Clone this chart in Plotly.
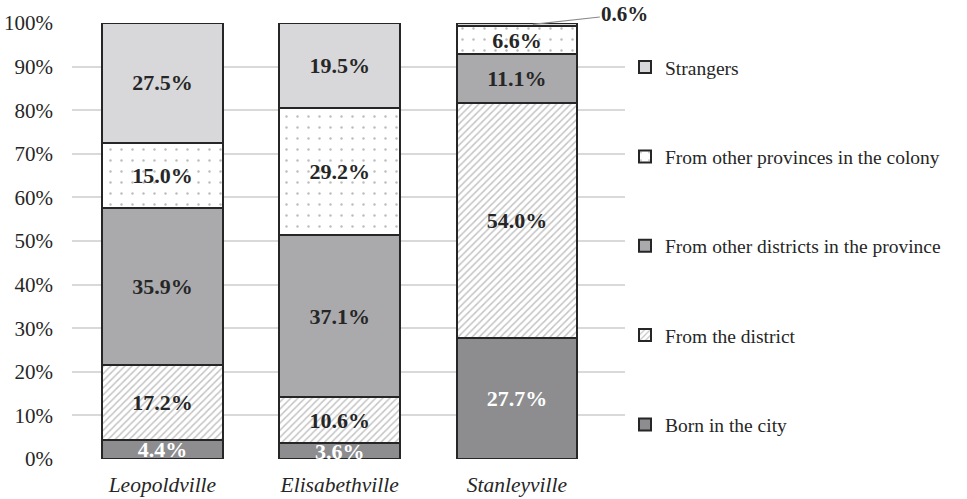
import plotly.graph_objects as go

# Origin of the urban population in three Congolese cities (shares, %)
cities = ["Leopoldville", "Elisabethville", "Stanleyville"]
born_in_city = [4.4, 3.6, 27.7]
from_district = [17.2, 10.6, 54.0]
other_districts = [35.9, 37.1, 11.1]
other_provinces = [15.0, 29.2, 6.6]
strangers = [27.5, 19.5, 0.6]
y_ticks = [0, 10, 20, 30, 40, 50, 60, 70, 80, 90, 100]

FONT = "serif"
EDGE = "#262626"

series = [
    ("Born in the city", born_in_city, dict(color="#8d8d90"), "white"),
    ("From the district", from_district,
     dict(color="white", pattern=dict(shape="/", size=5, solidity=0.3,
                                      fgcolor="#8a8a8a", bgcolor="white")), EDGE),
    ("From other districts in the province", other_districts, dict(color="#aaaaad"), EDGE),
    ("From other provinces in the colony", other_provinces,
     dict(color="white", pattern=dict(shape=".", size=11, solidity=0.04,
                                      fgcolor="#7a7a7a", bgcolor="white")), EDGE),
    ("Strangers", strangers, dict(color="#d8d8da"), EDGE),
]

fig = go.Figure()
n = len(series)
for i, (name, vals, marker, tcolor) in enumerate(series):
    # the smallest slice gets an outside callout instead of an inside label
    labels = [f"{v:.1f}%" if v >= 1 else "" for v in vals]
    fig.add_trace(go.Bar(
        name=name, x=cities, y=vals, width=0.68,
        marker=dict(**marker, line=dict(color=EDGE, width=2)),
        text=labels, textposition="inside", insidetextanchor="middle",
        constraintext="none", cliponaxis=True,
        textfont=dict(family=FONT, size=22, color=tcolor, weight="bold"),
        legendgroup=name, legendrank=n - i, hoverinfo="skip",
    ))

# callout for Stanleyville's strangers share
top_share = strangers[2]
fig.add_annotation(
    x=2.09, y=100 - top_share / 2, xref="x", yref="y",
    text=f"<b>{top_share:.1f}%</b>", showarrow=True, arrowhead=0,
    arrowwidth=1.2, arrowcolor="#8a8a8a", ax=92, ay=-10,
    font=dict(family=FONT, size=21, color=EDGE),
)

fig.update_layout(
    barmode="stack",
    width=967, height=499,
    margin=dict(l=72, r=342, t=23, b=40),
    plot_bgcolor="white", paper_bgcolor="white",
    font=dict(family=FONT, size=20, color="#262626"),
    showlegend=True,
    legend=dict(
        x=1.0, y=0.943, xanchor="left", yanchor="top",
        traceorder="grouped", tracegroupgap=61,
        font=dict(family=FONT, size=19.5, color="#262626"),
        itemwidth=30,
    ),
    xaxis=dict(
        range=[-0.51, 2.61], showgrid=False, showline=False, zeroline=False,
        tickfont=dict(family=FONT, size=21.5, style="italic"),
        ticks="", ticklabelstandoff=10, automargin=False,
    ),
    yaxis=dict(
        range=[0, 100], tickvals=y_ticks, ticktext=[f"{t}%" for t in y_ticks],
        showgrid=True, gridcolor="#d9d9d9", gridwidth=1.5,
        zeroline=False, showline=False, ticks="",
        tickfont=dict(family=FONT, size=21), ticklabelstandoff=18,
        automargin=False,
    ),
)

fig.write_html("out.html")
